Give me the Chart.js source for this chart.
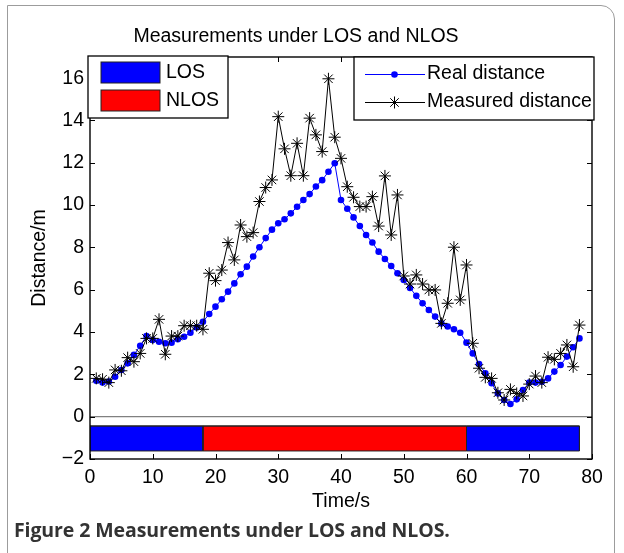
<!DOCTYPE html>
<html>
<head>
<meta charset="utf-8">
<title>Measurements under LOS and NLOS</title>
<script src="https://cdn.jsdelivr.net/npm/chart.js@4.4.1/dist/chart.umd.min.js"></script>
<style>
  html, body { margin: 0; padding: 0; background: #fff; }
  #wrap { position: relative; width: 624px; height: 553px; overflow: hidden; }
  #chart { position: absolute; left: 0; top: 0; }
  #frame {
    position: absolute; left: 7px; top: 5px; width: 608px; height: 640px;
    border: 1.5px solid #9c9c9c; border-top-right-radius: 14px;
    box-sizing: border-box; pointer-events: none;
  }
  #caption {
    position: absolute; left: 14px; top: 516px;
    font-family: 'Open Sans', sans-serif; font-size: 19.5px; color: #333;
    font-weight: 700; white-space: nowrap; letter-spacing: -0.1px;
  }
</style>
</head>
<body>
<div id="wrap">
  <canvas id="chart" width="624" height="553"></canvas>
  <div id="frame"></div>
  <div id="caption">Figure 2 Measurements under LOS and NLOS.</div>
</div>
<script>
// time stamps (s)
const time = [1, 2, 3, 4, 5, 6, 7, 8, 9, 10,
  11, 12, 13, 14, 15, 16, 17, 18, 19, 20,
  21, 22, 23, 24, 25, 26, 27, 28, 29, 30,
  31, 32, 33, 34, 35, 36, 37, 38, 39, 40,
  41, 42, 43, 44, 45, 46, 47, 48, 49, 50,
  51, 52, 53, 54, 55, 56, 57, 58, 59, 60,
  61, 62, 63, 64, 65, 66, 67, 68, 69, 70,
  71, 72, 73, 74, 75, 76, 77, 78];

// real distance (m)
const realDist = [1.70, 1.61, 1.66, 1.89, 2.21, 2.52, 2.92, 3.35, 3.81, 3.62,
  3.54, 3.47, 3.50, 3.66, 3.78, 3.97, 4.22, 4.49, 4.85, 5.20,
  5.55, 5.91, 6.30, 6.73, 7.09, 7.57, 8.01, 8.44, 8.84, 9.14,
  9.33, 9.61, 9.92, 10.24, 10.52, 10.88, 11.18, 11.58, 11.98, 10.24,
  9.83, 9.42, 9.01, 8.59, 8.23, 7.80, 7.45, 7.12, 6.78, 6.46,
  6.08, 5.71, 5.36, 5.04, 4.73, 4.41, 4.26, 4.13, 3.97, 3.50,
  2.99, 2.49, 2.05, 1.58, 1.10, 0.79, 0.60, 0.82, 1.26, 1.61,
  1.61, 1.65, 1.81, 2.13, 2.44, 2.84, 3.28, 3.70];

// measured distance (m)
const measDist = [1.81, 1.77, 1.61, 2.21, 2.17, 2.79, 2.60, 2.99, 3.70, 3.70,
  4.60, 2.95, 3.81, 3.81, 4.30, 4.30, 4.30, 4.13, 6.78, 6.43,
  6.93, 8.23, 7.41, 9.06, 8.51, 8.70, 10.17, 10.83, 11.19, 14.18,
  12.66, 11.39, 12.92, 11.39, 14.11, 13.32, 12.53, 15.97, 13.21, 12.21,
  10.87, 10.37, 9.93, 9.93, 10.40, 9.01, 11.38, 8.59, 10.48, 6.65,
  6.27, 6.70, 6.27, 5.99, 5.99, 4.41, 5.36, 8.01, 5.52, 7.17,
  3.47, 2.29, 1.86, 1.81, 1.13, 0.79, 1.29, 1.10, 0.98, 1.54,
  1.92, 1.61, 2.81, 2.71, 2.99, 3.39, 2.36, 4.33];

// LOS / NLOS condition strip
const segStart = [0, 18, 60];
const segEnd = [18, 60, 78];
const segType = ['LOS', 'NLOS', 'LOS'];
const stripTop = -0.44;
const stripBottom = -1.62;

const xTicks = [0, 10, 20, 30, 40, 50, 60, 70, 80];
const yTicks = [-2, 0, 2, 4, 6, 8, 10, 12, 14, 16];

const BLUE = '#0000ff';
const RED = '#ff0000';
const typeColor = { LOS: BLUE, NLOS: RED };

Chart.defaults.font.family = "'Liberation Sans', Arial, sans-serif";
Chart.defaults.font.size = 19.5;
Chart.defaults.color = '#000';

const toPoints = (xs, ys) => xs.map((v, i) => ({ x: v, y: ys[i] }));

const datasets = [];

datasets.push({
  label: 'Measured distance',
  data: toPoints(time, measDist),
  borderColor: '#000',
  borderWidth: 1,
  pointStyle: 'star',
  pointRadius: 6,
  pointBorderColor: '#000',
  pointBorderWidth: 1,
  order: 0,
});

datasets.push({
  label: 'Real distance',
  data: toPoints(time, realDist),
  borderColor: BLUE,
  borderWidth: 1,
  pointRadius: 3.3,
  pointBackgroundColor: BLUE,
  pointBorderWidth: 0,
  order: 1,
});

segStart.forEach((s, i) => {
  const e = segEnd[i];
  datasets.push({
    label: segType[i],
    data: [{ x: s, y: stripTop }, { x: e, y: stripTop }],
    fill: { value: stripBottom },
    backgroundColor: typeColor[segType[i]],
    borderColor: '#222',
    borderWidth: 1,
    pointRadius: 0,
    order: 3,
  });
  // outline of the strip cell
  datasets.push({
    label: segType[i] + ' edge',
    data: [{ x: s, y: stripTop }, { x: e, y: stripTop }, { x: e, y: stripBottom },
      { x: s, y: stripBottom }, { x: s, y: stripTop }],
    fill: false,
    borderColor: '#222',
    borderWidth: 1,
    pointRadius: 0,
    order: 2,
  });
});

// zero line
datasets.push({
  label: 'zero',
  data: [{ x: xTicks[0], y: 0 }, { x: xTicks[xTicks.length - 1], y: 0 }],
  borderColor: '#808080',
  borderWidth: 1.3,
  pointRadius: 0,
  fill: false,
  order: 4,
});

// box around the axes with inward ticks, MATLAB style
const axisBox = {
  id: 'axisBox',
  afterDatasetsDraw(chart) {
    const { ctx, chartArea: a, scales: { x, y } } = chart;
    ctx.save();
    ctx.strokeStyle = '#000';
    ctx.lineWidth = 1;
    ctx.beginPath();
    xTicks.forEach(v => {
      const px = Math.round(x.getPixelForValue(v)) + 0.5;
      ctx.moveTo(px, a.bottom); ctx.lineTo(px, a.bottom - 5);
      ctx.moveTo(px, a.top); ctx.lineTo(px, a.top + 5);
    });
    yTicks.forEach(v => {
      const py = Math.round(y.getPixelForValue(v)) + 0.5;
      ctx.moveTo(a.left, py); ctx.lineTo(a.left + 5, py);
      ctx.moveTo(a.right, py); ctx.lineTo(a.right - 5, py);
    });
    ctx.stroke();
    ctx.lineWidth = 1.4;
    ctx.strokeRect(a.left, a.top, a.right - a.left, a.bottom - a.top);
    ctx.restore();
  }
};

// the two legend boxes
const legends = {
  id: 'legends',
  afterDraw(chart) {
    const ctx = chart.ctx;
    ctx.save();
    ctx.font = "19.5px 'Liberation Sans', Arial, sans-serif";
    ctx.textBaseline = 'middle';
    ctx.textAlign = 'left';

    // condition legend
    ctx.fillStyle = '#fff';
    ctx.fillRect(88, 56, 140, 62);
    ctx.strokeStyle = '#000';
    ctx.lineWidth = 1.3;
    ctx.strokeRect(88, 56, 140, 62);
    [['LOS', 62], ['NLOS', 90]].forEach(([name, top]) => {
      ctx.fillStyle = typeColor[name];
      ctx.fillRect(101, top, 59, 21);
      ctx.strokeStyle = '#222';
      ctx.lineWidth = 1;
      ctx.strokeRect(101, top, 59, 21);
      ctx.fillStyle = '#000';
      ctx.fillText(name, 166, top + 11);
    });

    // series legend
    ctx.fillStyle = '#fff';
    ctx.fillRect(354, 57, 240, 63);
    ctx.strokeStyle = '#000';
    ctx.lineWidth = 1.3;
    ctx.strokeRect(354, 57, 240, 63);

    const real = chart.data.datasets[1];
    const meas = chart.data.datasets[0];
    // real distance row
    ctx.strokeStyle = real.borderColor;
    ctx.lineWidth = 1;
    ctx.beginPath(); ctx.moveTo(365, 74.5); ctx.lineTo(425, 74.5); ctx.stroke();
    ctx.fillStyle = real.pointBackgroundColor;
    ctx.beginPath(); ctx.arc(394.5, 74.5, 3.3, 0, Math.PI * 2); ctx.fill();
    ctx.fillStyle = '#000';
    ctx.fillText(real.label, 427, 74);
    // measured distance row
    ctx.strokeStyle = meas.borderColor;
    ctx.beginPath(); ctx.moveTo(365, 102.5); ctx.lineTo(425, 102.5); ctx.stroke();
    Chart.helpers.drawPoint(ctx, { pointStyle: 'star', radius: 6, borderWidth: 1 }, 394.5, 102.5);
    ctx.fillStyle = '#000';
    ctx.fillText(meas.label, 427, 102);
    ctx.restore();
  }
};

new Chart(document.getElementById('chart'), {
  type: 'line',
  data: { datasets: datasets },
  options: {
    responsive: false,
    devicePixelRatio: 1,
    animation: false,
    events: [],
    layout: { padding: { left: 0, right: 32, top: 0, bottom: 0 } },
    plugins: {
      legend: { display: false },
      tooltip: { enabled: false },
      title: {
        display: true,
        text: 'Measurements under LOS and NLOS',
        font: { size: 19.5, weight: 'normal' },
        color: '#000',
        padding: { top: 25, bottom: 8.6 },
      },
    },
    scales: {
      x: {
        type: 'linear',
        min: 0,
        max: 80,
        grid: { display: false, drawTicks: false },
        border: { display: false },
        ticks: { stepSize: 10, padding: 7.3, maxRotation: 0 },
        title: { display: true, text: 'Time/s', padding: { top: 0, bottom: 39.3 } },
        afterFit(scale) {
          scale.height = 94;
          scale.paddingLeft = 0;
          scale.paddingRight = 0;
        },
      },
      y: {
        type: 'linear',
        min: -2,
        max: 17,
        grid: { display: false, drawTicks: false },
        border: { display: false },
        ticks: {
          stepSize: 2,
          includeBounds: false,
          padding: 6,
          callback: v => (v < 0 ? '\u2212' + Math.abs(v) : String(v)),
        },
        title: { display: true, text: 'Distance/m', padding: { top: 28.3, bottom: 0 } },
        afterFit(scale) {
          scale.width = 90;
          scale.paddingTop = 0;
          scale.paddingBottom = 0;
        },
      },
    },
  },
  plugins: [axisBox, legends],
});
</script>
</body>
</html>
